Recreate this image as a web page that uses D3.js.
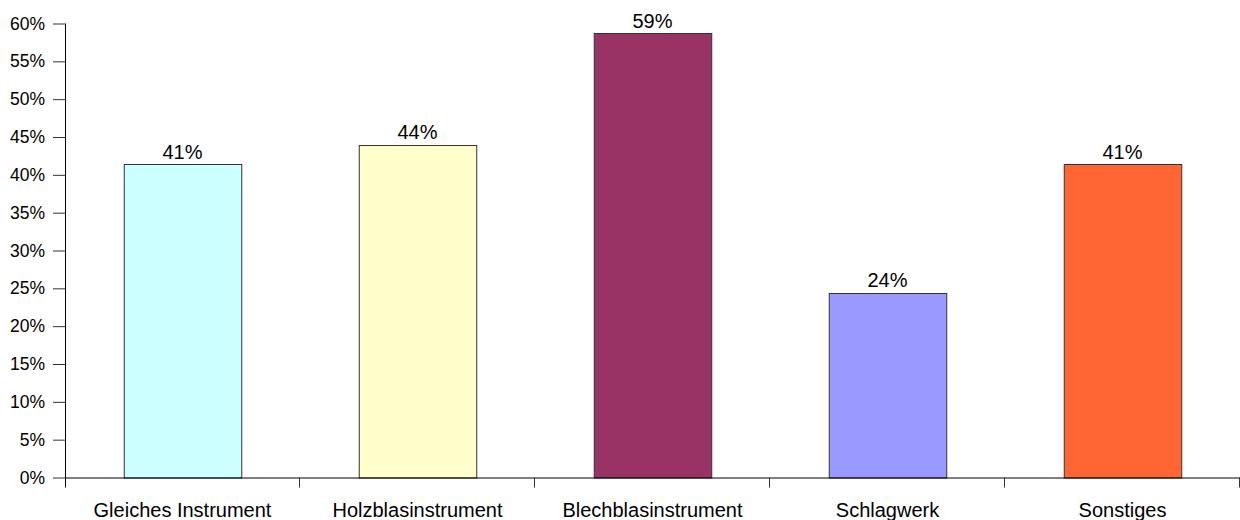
<!DOCTYPE html>
<html>
<head>
<meta charset="utf-8">
<script src="https://cdn.jsdelivr.net/npm/d3@7"></script>
<style>
    body{margin:0;background:#fff;}
    svg{display:block;font-family:Arial,"Liberation Sans",sans-serif;}
</style>
</head>
<body>
<div class="canvas"></div>
<script>
// data
const categories = ['Gleiches Instrument','Holzblasinstrument','Blechblasinstrument','Schlagwerk','Sonstiges'];
const values = [0.414, 0.44, 0.587, 0.244, 0.414];
const colours = ['#CCFFFF','#FFFFCC','#993366','#9999FF','#FF6633'];
const yTicks = [0,0.05,0.1,0.15,0.2,0.25,0.3,0.35,0.4,0.45,0.5,0.55,0.6];

const dim = {
    width:1240,
    height:520
};
const margin = {top:23.5,right:0,bottom:42.5,left:65};

const svg = d3.select('.canvas')
    .append('svg')
    .attr('width',dim.width)
    .attr('height',dim.height);

const x = d3.scaleBand()
    .domain(categories)
    .range([margin.left,dim.width-margin.right])
    .paddingInner(0.5)
    .paddingOuter(0.25);

const y = d3.scaleLinear()
    .domain([0,0.6])
    .range([dim.height-margin.bottom,margin.top]);

const colour = d3.scaleOrdinal()
    .domain(categories)
    .range(colours);

const data = categories.map((c,i)=>({name:c,value:values[i]}));

//bars
svg.append('g').selectAll('rect')
    .data(data)
    .enter()
    .append('rect')
    .attr('x',d=>x(d.name)+0.5)
    .attr('y',d=>Math.round(y(d.value))+0.5)
    .attr('width',x.bandwidth())
    .attr('height',d=>y(0)-Math.round(y(d.value)))
    .attr('fill',d=>colour(d.name))
    .attr('stroke','#333')
    .attr('stroke-width',1);

//value labels
svg.append('g').selectAll('text')
    .data(data)
    .enter()
    .append('text')
    .attr('x',d=>x(d.name)+x.bandwidth()/2)
    .attr('y',d=>y(d.value)-5.5)
    .attr('text-anchor','middle')
    .attr('font-size','20px')
    .attr('fill','#000')
    .text(d=>d3.format('.0%')(d.value));

//y axis
const yAxis = d3.axisLeft(y)
    .tickValues(yTicks)
    .tickSize(12)
    .tickPadding(8)
    .tickFormat(d3.format('.0%'));

const yAxisGroup = svg.append('g')
    .attr('transform',`translate(${margin.left},0)`)
    .call(yAxis);
yAxisGroup.select('.domain')
    .attr('d',`M0.5,${y(0.6)}V${y(0)+10}`)
    .attr('stroke','#000');
yAxisGroup.selectAll('.tick line').attr('stroke','#333');
yAxisGroup.selectAll('text')
    .attr('font-size','17.5px')
    .attr('font-family','Arial,"Liberation Sans",sans-serif')
    .attr('fill','#000');

//x axis
const step = x.step();
const edges = d3.range(categories.length+1).map(i=>margin.left+i*step);

const xAxisGroup = svg.append('g');
xAxisGroup.append('line')
    .attr('x1',margin.left)
    .attr('x2',dim.width)
    .attr('y1',y(0)+0.5)
    .attr('y2',y(0)+0.5)
    .attr('stroke','#000');
xAxisGroup.selectAll('.edge')
    .data(edges.slice(1))
    .enter()
    .append('line')
    .attr('class','edge')
    .attr('x1',d=>Math.round(d)-0.5)
    .attr('x2',d=>Math.round(d)-0.5)
    .attr('y1',y(0))
    .attr('y2',y(0)+10)
    .attr('stroke','#333');
xAxisGroup.selectAll('.cat')
    .data(categories)
    .enter()
    .append('text')
    .attr('class','cat')
    .attr('x',d=>x(d)+x.bandwidth()/2)
    .attr('y',516.5)
    .attr('text-anchor','middle')
    .attr('font-size','20px')
    .attr('fill','#000')
    .text(d=>d);
</script>
</body>
</html>
